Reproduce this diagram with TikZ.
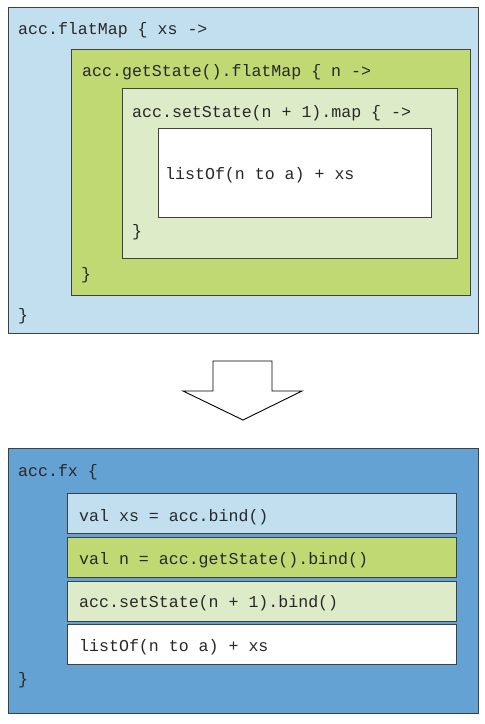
\documentclass[tikz,border=0pt]{standalone}
\usepackage{fontspec}
\setmonofont{Liberation Mono}
\definecolor{lblue}{RGB}{194,223,240}
\definecolor{dblue}{RGB}{101,162,212}
\definecolor{mgreen}{RGB}{193,217,115}
\definecolor{lgreen}{RGB}{222,235,200}
\definecolor{edge}{RGB}{64,64,64}
\definecolor{txt}{RGB}{40,40,40}
\begin{document}
\begin{tikzpicture}[x=1pt,y=-1pt,
  box/.style={draw=edge,line width=1.4pt,rectangle,anchor=north west,inner sep=0pt},
  code/.style={anchor=base west,inner sep=0pt,text=txt,font=\fontsize{16.6}{18}\ttfamily}]
\useasboundingbox (0,0) rectangle (485,724);
\fill[white] (0,0) rectangle (485,724);
% top part
\node[box,fill=lblue,minimum width=470pt,minimum height=326pt] (outer) at (8,7) {};
\node[box,fill=mgreen,minimum width=399pt,minimum height=246pt] (state) at (71,49) {};
\node[box,fill=lgreen,minimum width=335pt,minimum height=170pt] (setst) at (122,88) {};
\node[box,fill=white,minimum width=273pt,minimum height=89pt] (inner) at (158,128) {};
\node[code] (t1) at (18,34) {acc.flatMap \{ xs ->};
\node[code] (t2) at (82,76) {acc.getState().flatMap \{ n ->};
\node[code] (t3) at (132,117) {acc.setState(n + 1).map \{ ->};
\node[code] (t4) at (165,179) {listOf(n to a) + xs};
\node[code] (c3) at (132,236) {\}};
\node[code] (c2) at (81,279) {\}};
\node[code] (c1) at (18,320) {\}};
% arrow
\draw[line width=0.9pt,fill=white] (213,361) -- (272,361) -- (272,391) -- (302,391) -- (243,420) -- (183,391) -- (213,391) -- cycle;
% bottom part
\node[box,fill=dblue,minimum width=470pt,minimum height=265pt] (fx) at (8,448) {};
\node[box,fill=lblue,minimum width=389pt,minimum height=40pt] (b1) at (67,493) {};
\node[box,fill=mgreen,minimum width=389pt,minimum height=40pt] (b2) at (67,537) {};
\node[box,fill=lgreen,minimum width=389pt,minimum height=40pt] (b3) at (67,581) {};
\node[box,fill=white,minimum width=389pt,minimum height=40pt] (b4) at (67,624) {};
\node[code] (u0) at (18,476) {acc.fx \{};
\node[code] (u1) at (79,521) {val xs = acc.bind()};
\node[code] (u2) at (79,564) {val n = acc.getState().bind()};
\node[code] (u3) at (79,607) {acc.setState(n + 1).bind()};
\node[code] (u4) at (79,651) {listOf(n to a) + xs};
\node[code] (u5) at (18,684) {\}};
\end{tikzpicture}
\end{document}
